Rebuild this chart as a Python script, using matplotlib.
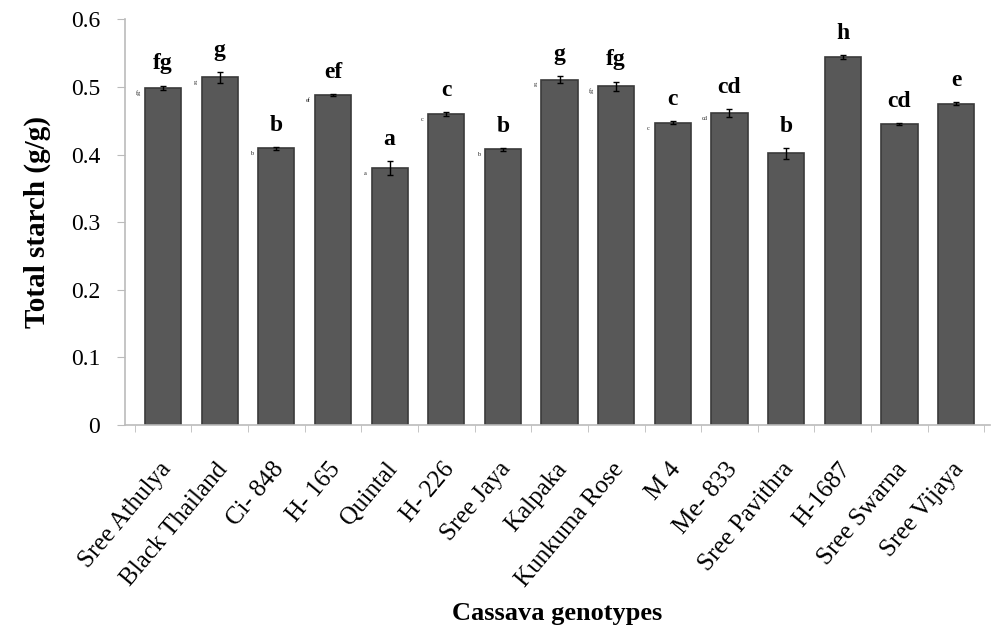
import matplotlib.pyplot as plt
import numpy as np

plt.rcParams['font.family'] = ['Liberation Serif', 'DejaVu Serif']

genotypes = ['Sree Athulya', 'Black Thailand', 'Ci- 848', 'H- 165', 'Quintal',
             'H- 226', 'Sree Jaya', 'Kalpaka', 'Kunkuma Rose', 'M 4',
             'Me- 833', 'Sree Pavithra', 'H-1687', 'Sree Swarna', 'Sree Vijaya']
starch = [0.499, 0.514, 0.409, 0.488, 0.380, 0.460, 0.408, 0.511, 0.501,
          0.447, 0.461, 0.402, 0.544, 0.445, 0.475]
err = [0.003, 0.008, 0.002, 0.002, 0.010, 0.003, 0.002, 0.005, 0.007,
       0.002, 0.006, 0.008, 0.003, 0.001, 0.002]
groups = ['fg', 'g', 'b', 'ef', 'a', 'c', 'b', 'g', 'fg', 'c', 'cd', 'b',
          'h', 'cd', 'e']

x = np.arange(len(genotypes))

fig = plt.figure(figsize=(9.93, 6.44), dpi=100)
ax = fig.add_axes([0.126, 0.34, 0.871, 0.63])

ax.bar(x, starch, width=0.64, color='#585858', edgecolor='#3a3a3a', linewidth=1.2,
       yerr=err, error_kw=dict(ecolor='black', elinewidth=1, capsize=2, capthick=1))

for xi, v, e, g in zip(x, starch, err, groups):
    ax.annotate(g, (xi, v + e), xytext=(0, 8), textcoords='offset points',
                ha='center', va='bottom', fontsize=17, fontweight='bold')

# tiny group letters left of the bars (as in the original figure)
for xi, v, g in zip(x[:11], starch[:11], groups[:11]):
    ax.text(xi - 0.43, v - 0.008, g, fontsize=4.5, ha='center', va='center',
            color='#222222')

ax.set_xlim(-0.67, 14.6)
ax.set_ylim(0, 0.6)
ax.set_yticks(np.arange(0, 0.61, 0.1))
ax.set_yticklabels(['0', '0.1', '0.2', '0.3', '0.4', '0.5', '0.6'], fontsize=17)

ax.set_xticks(x - 0.08)
ax.set_xticklabels(genotypes, rotation=50, ha='right', rotation_mode='anchor',
                   fontsize=18)
ax.tick_params(axis='x', length=0, pad=24)
ax.set_xticks(np.arange(-0.5, len(genotypes), 1), minor=True)
ax.tick_params(axis='x', which='minor', length=5, color='#bbbbbb')
ax.tick_params(axis='y', length=6, color='#bbbbbb', pad=12)

for side in ['top', 'right']:
    ax.spines[side].set_visible(False)
for side in ['left', 'bottom']:
    ax.spines[side].set_color('#bbbbbb')
    ax.spines[side].set_linewidth(1.2)

ax.set_ylabel('Total starch (g/g)', fontsize=21, fontweight='bold', labelpad=14)
ax.set_xlabel('Cassava genotypes', fontsize=19, fontweight='bold', labelpad=8)

fig.savefig('out.png', dpi=100)
